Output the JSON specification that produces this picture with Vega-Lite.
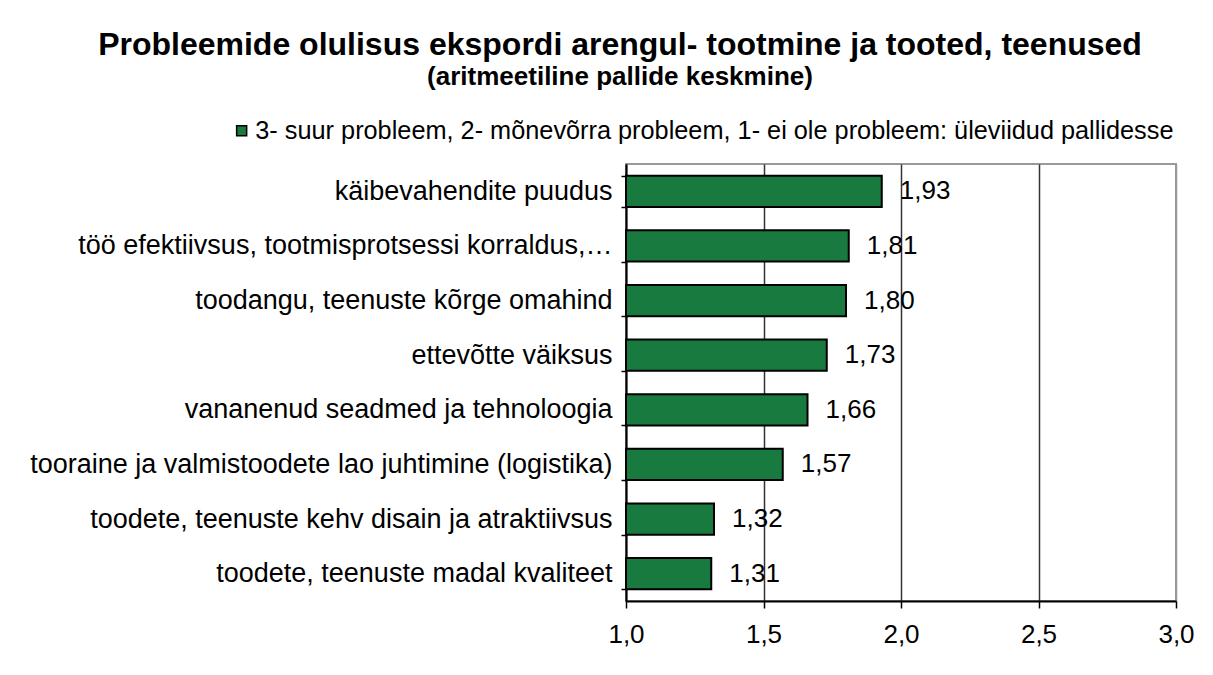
{
  "$schema": "https://vega.github.io/schema/vega-lite/v6.json",
  "autosize": "none",
  "width": 550,
  "height": 437,
  "padding": {"left": 626, "top": 164, "right": 37, "bottom": 74},
  "background": "white",
  "config": {
    "locale": {"number": {"decimal": ",", "thousands": " ", "grouping": [3], "currency": ["", " €"]}},
    "font": "Liberation Sans",
    "view": {"stroke": "#999999", "strokeWidth": 2}
  },
  "title": {
    "text": "Probleemide olulisus ekspordi arengul- tootmine ja tooted, teenused",
    "subtitle": "(aritmeetiline pallide keskmine)",
    "anchor": "middle",
    "dx": -281,
    "offset": 27,
    "font": "Liberation Sans",
    "fontSize": 32,
    "fontWeight": "bold",
    "color": "black",
    "subtitleFont": "Liberation Sans",
    "subtitleFontSize": 26,
    "subtitleFontWeight": "bold",
    "subtitleColor": "black",
    "subtitlePadding": 2
  },
  "data": {
    "values": [
      {"item": "käibevahendite puudus", "value": 1.93, "series": "3- suur probleem, 2- mõnevõrra probleem, 1- ei ole probleem: üleviidud pallidesse"},
      {"item": "töö efektiivsus, tootmisprotsessi korraldus,…", "value": 1.81, "series": "3- suur probleem, 2- mõnevõrra probleem, 1- ei ole probleem: üleviidud pallidesse"},
      {"item": "toodangu, teenuste kõrge omahind", "value": 1.80, "series": "3- suur probleem, 2- mõnevõrra probleem, 1- ei ole probleem: üleviidud pallidesse"},
      {"item": "ettevõtte väiksus", "value": 1.73, "series": "3- suur probleem, 2- mõnevõrra probleem, 1- ei ole probleem: üleviidud pallidesse"},
      {"item": "vananenud seadmed ja tehnoloogia", "value": 1.66, "series": "3- suur probleem, 2- mõnevõrra probleem, 1- ei ole probleem: üleviidud pallidesse"},
      {"item": "tooraine ja valmistoodete lao juhtimine (logistika)", "value": 1.57, "series": "3- suur probleem, 2- mõnevõrra probleem, 1- ei ole probleem: üleviidud pallidesse"},
      {"item": "toodete, teenuste kehv disain ja atraktiivsus", "value": 1.32, "series": "3- suur probleem, 2- mõnevõrra probleem, 1- ei ole probleem: üleviidud pallidesse"},
      {"item": "toodete, teenuste madal kvaliteet", "value": 1.31, "series": "3- suur probleem, 2- mõnevõrra probleem, 1- ei ole probleem: üleviidud pallidesse"}
    ]
  },
  "encoding": {
    "y": {
      "field": "item",
      "type": "nominal",
      "sort": {"field": "value", "order": "descending"},
      "scale": {"paddingInner": 0.43, "paddingOuter": 0.215},
      "axis": {
        "title": null,
        "labelFont": "Liberation Sans",
        "labelFontSize": 27,
        "labelColor": "black",
        "labelLimit": 620,
        "labelPadding": 9,
        "tickBand": "extent",
        "tickSize": 5,
        "tickColor": "black",
        "tickWidth": 1.5,
        "domainColor": "black",
        "domainWidth": 2,
        "grid": false
      }
    }
  },
  "layer": [
    {
      "mark": {"type": "bar", "stroke": "black", "strokeWidth": 2},
      "encoding": {
        "x": {
          "field": "value",
          "type": "quantitative",
          "scale": {"domain": [1, 3], "nice": false, "zero": false},
          "axis": {
            "title": null,
            "values": [1, 1.5, 2, 2.5, 3],
            "format": ".1f",
            "labelFlush": false,
            "labelFont": "Liberation Sans",
            "labelFontSize": 26,
            "labelColor": "black",
            "labelPadding": 13,
            "tickSize": 7,
            "tickColor": "black",
            "tickWidth": 1.5,
            "domainColor": "black",
            "domainWidth": 2,
            "grid": true,
            "gridColor": {"condition": {"test": "datum.value == 3", "value": "#999999"}, "value": "#333333"},
            "gridWidth": 1.5
          }
        },
        "x2": {"datum": 1},
        "color": {
          "field": "series",
          "type": "nominal",
          "scale": {"range": ["#187A3E"]},
          "legend": {
            "title": null,
            "orient": "none",
            "legendX": -397,
            "legendY": -46,
            "symbolType": "square",
            "symbolSize": 100,
            "symbolStrokeColor": "black",
            "symbolStrokeWidth": 1.5,
            "labelFont": "Liberation Sans",
            "labelFontSize": 25.3,
            "labelColor": "black",
            "labelLimit": 1000,
            "labelOffset": 1
          }
        }
      }
    },
    {
      "mark": {"type": "text", "align": "left", "baseline": "middle", "dx": 18, "font": "Liberation Sans", "fontSize": 26, "color": "black"},
      "encoding": {
        "x": {"field": "value", "type": "quantitative"},
        "text": {"field": "value", "type": "quantitative", "format": ".2f"}
      }
    }
  ]
}
